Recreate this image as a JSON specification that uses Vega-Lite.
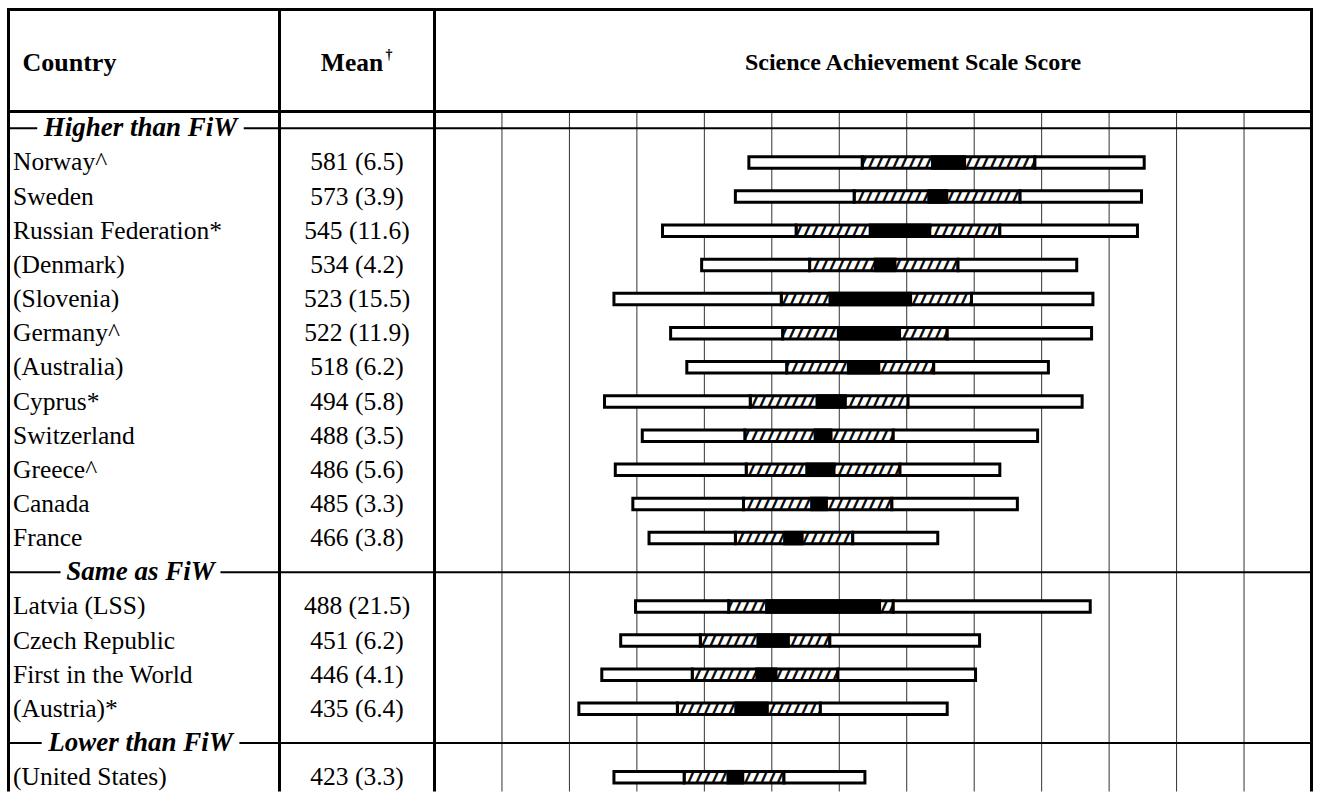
{
  "$schema": "https://vega.github.io/schema/vega-lite/v6.json",
  "padding": {"left": 5.5, "top": 6.5, "right": 0, "bottom": 0},
  "bounds": "flush",
  "spacing": 0,
  "config": {"view": {"stroke": null}, "font": "Liberation Serif"},
  "datasets": {
    "countries": [
      {"row": 1, "country": "Norway^", "meanLabel": "581 (6.5)", "mean": 581, "lo": 568.0, "hi": 594.0, "p5": 433, "p25": 517, "p75": 645, "p95": 726},
      {"row": 2, "country": "Sweden", "meanLabel": "573 (3.9)", "mean": 573, "lo": 565.2, "hi": 580.8, "p5": 423, "p25": 511, "p75": 634, "p95": 724},
      {"row": 3, "country": "Russian Federation*", "meanLabel": "545 (11.6)", "mean": 545, "lo": 521.8, "hi": 568.2, "p5": 369, "p25": 468, "p75": 619, "p95": 721},
      {"row": 4, "country": "(Denmark)", "meanLabel": "534 (4.2)", "mean": 534, "lo": 525.6, "hi": 542.4, "p5": 398, "p25": 478, "p75": 588, "p95": 676},
      {"row": 5, "country": "(Slovenia)", "meanLabel": "523 (15.5)", "mean": 523, "lo": 492.0, "hi": 554.0, "p5": 333, "p25": 457, "p75": 598, "p95": 688},
      {"row": 6, "country": "Germany^", "meanLabel": "522 (11.9)", "mean": 522, "lo": 498.2, "hi": 545.8, "p5": 375, "p25": 458, "p75": 580, "p95": 687},
      {"row": 7, "country": "(Australia)", "meanLabel": "518 (6.2)", "mean": 518, "lo": 505.6, "hi": 530.4, "p5": 387, "p25": 461, "p75": 570, "p95": 655},
      {"row": 8, "country": "Cyprus*", "meanLabel": "494 (5.8)", "mean": 494, "lo": 482.4, "hi": 505.6, "p5": 326, "p25": 434, "p75": 551, "p95": 680},
      {"row": 9, "country": "Switzerland", "meanLabel": "488 (3.5)", "mean": 488, "lo": 481.0, "hi": 495.0, "p5": 354, "p25": 430, "p75": 540, "p95": 647},
      {"row": 10, "country": "Greece^", "meanLabel": "486 (5.6)", "mean": 486, "lo": 474.8, "hi": 497.2, "p5": 334, "p25": 431, "p75": 545, "p95": 619},
      {"row": 11, "country": "Canada", "meanLabel": "485 (3.3)", "mean": 485, "lo": 478.4, "hi": 491.6, "p5": 347, "p25": 429, "p75": 539, "p95": 632},
      {"row": 12, "country": "France", "meanLabel": "466 (3.8)", "mean": 466, "lo": 458.4, "hi": 473.6, "p5": 359, "p25": 423, "p75": 510, "p95": 573},
      {"row": 14, "country": "Latvia (LSS)", "meanLabel": "488 (21.5)", "mean": 488, "lo": 445.0, "hi": 531.0, "p5": 349, "p25": 418, "p75": 540, "p95": 686},
      {"row": 15, "country": "Czech Republic", "meanLabel": "451 (6.2)", "mean": 451, "lo": 438.6, "hi": 463.4, "p5": 338, "p25": 397, "p75": 493, "p95": 604},
      {"row": 16, "country": "First in the World", "meanLabel": "446 (4.1)", "mean": 446, "lo": 437.8, "hi": 454.2, "p5": 324, "p25": 391, "p75": 499, "p95": 601},
      {"row": 17, "country": "(Austria)*", "meanLabel": "435 (6.4)", "mean": 435, "lo": 422.2, "hi": 447.8, "p5": 307, "p25": 380, "p75": 486, "p95": 580},
      {"row": 19, "country": "(United States)", "meanLabel": "423 (3.3)", "mean": 423, "lo": 416.4, "hi": 429.6, "p5": 333, "p25": 385, "p75": 459, "p95": 519}
    ],
    "groups": [
      {"row": 0, "label": "Higher than FiW"},
      {"row": 13, "label": "Same as FiW"},
      {"row": 18, "label": "Lower than FiW"}
    ],
    "ticks": [
      {"score": 250}, {"score": 300}, {"score": 350}, {"score": 400}, {"score": 450}, {"score": 500},
      {"score": 550}, {"score": 600}, {"score": 650}, {"score": 700}, {"score": 750}, {"score": 800}
    ]
  },
  "hconcat": [
    {
      "width": 271,
      "height": 782,
      "layer": [
        {"data": {"values": [{}]}, "mark": {"type": "rule", "color": "black", "strokeWidth": 3, "strokeCap": "square"},
         "encoding": {"y": {"datum": -3.479, "type": "quantitative", "scale": {"domain": [-3.479, 19.42], "reverse": true, "nice": false, "zero": false, "padding": 0}, "axis": null}}},
        {"data": {"values": [{}]}, "mark": {"type": "rule", "color": "black", "strokeWidth": 3},
         "encoding": {"y": {"datum": -0.492, "type": "quantitative", "scale": {"domain": [-3.479, 19.42], "reverse": true, "nice": false, "zero": false, "padding": 0}, "axis": null}}},
        {"data": {"values": [{}]}, "mark": {"type": "rule", "color": "black", "strokeWidth": 3},
         "encoding": {"x": {"datum": 0, "type": "quantitative", "scale": {"domain": [0, 1], "nice": false, "zero": false, "padding": 0}, "axis": null}}},
        {"data": {"name": "groups"}, "mark": {"type": "rule", "color": "black", "strokeWidth": 2},
         "encoding": {"y": {"field": "row", "type": "quantitative", "scale": {"domain": [-3.479, 19.42], "reverse": true, "nice": false, "zero": false, "padding": 0}, "axis": null}}},
        {"data": {"values": [{}]}, "mark": {"type": "bar", "orient": "horizontal", "size": 7, "fill": "white", "strokeWidth": 0},
         "encoding": {
           "x": {"datum": 0.106, "type": "quantitative", "scale": {"domain": [0, 1], "nice": false, "zero": false, "padding": 0}, "axis": null},
           "x2": {"datum": 0.868},
           "y": {"datum": 0, "type": "quantitative", "scale": {"domain": [-3.479, 19.42], "reverse": true, "nice": false, "zero": false, "padding": 0}, "axis": null}}},
        {"data": {"values": [{}]}, "mark": {"type": "bar", "orient": "horizontal", "size": 7, "fill": "white", "strokeWidth": 0},
         "encoding": {
           "x": {"datum": 0.192, "type": "quantitative", "scale": {"domain": [0, 1], "nice": false, "zero": false, "padding": 0}, "axis": null},
           "x2": {"datum": 0.782},
           "y": {"datum": 13, "type": "quantitative", "scale": {"domain": [-3.479, 19.42], "reverse": true, "nice": false, "zero": false, "padding": 0}, "axis": null}}},
        {"data": {"values": [{}]}, "mark": {"type": "bar", "orient": "horizontal", "size": 7, "fill": "white", "strokeWidth": 0},
         "encoding": {
           "x": {"datum": 0.1225, "type": "quantitative", "scale": {"domain": [0, 1], "nice": false, "zero": false, "padding": 0}, "axis": null},
           "x2": {"datum": 0.852},
           "y": {"datum": 18, "type": "quantitative", "scale": {"domain": [-3.479, 19.42], "reverse": true, "nice": false, "zero": false, "padding": 0}, "axis": null}}},
        {"data": {"values": [{}]}, "mark": {"type": "text", "text": "Country", "align": "left", "baseline": "middle", "dx": 14, "fontSize": 26, "fontWeight": "bold", "fill": "black"},
         "encoding": {
           "x": {"datum": 0, "type": "quantitative", "scale": {"domain": [0, 1], "nice": false, "zero": false, "padding": 0}, "axis": null},
           "y": {"datum": -1.921, "type": "quantitative", "scale": {"domain": [-3.479, 19.42], "reverse": true, "nice": false, "zero": false, "padding": 0}, "axis": null}}},
        {"data": {"name": "countries"}, "mark": {"type": "text", "align": "left", "baseline": "middle", "dx": 4.5, "fontSize": 25.5, "fill": "black"},
         "encoding": {
           "x": {"datum": 0, "type": "quantitative", "scale": {"domain": [0, 1], "nice": false, "zero": false, "padding": 0}, "axis": null},
           "y": {"field": "row", "type": "quantitative", "scale": {"domain": [-3.479, 19.42], "reverse": true, "nice": false, "zero": false, "padding": 0}, "axis": null},
           "text": {"field": "country"}}},
        {"data": {"name": "groups"}, "mark": {"type": "text", "align": "center", "baseline": "middle", "dx": -3.5, "fontSize": 27, "fontWeight": "bold", "fontStyle": "italic", "fill": "black"},
         "encoding": {
           "x": {"datum": 0.5, "type": "quantitative", "scale": {"domain": [0, 1], "nice": false, "zero": false, "padding": 0}, "axis": null},
           "y": {"field": "row", "type": "quantitative", "scale": {"domain": [-3.479, 19.42], "reverse": true, "nice": false, "zero": false, "padding": 0}, "axis": null},
           "text": {"field": "label"}}}
      ]
    },
    {
      "width": 155,
      "height": 782,
      "layer": [
        {"data": {"values": [{}]}, "mark": {"type": "rule", "color": "black", "strokeWidth": 3, "strokeCap": "square"},
         "encoding": {"y": {"datum": -3.479, "type": "quantitative", "scale": {"domain": [-3.479, 19.42], "reverse": true, "nice": false, "zero": false, "padding": 0}, "axis": null}}},
        {"data": {"values": [{}]}, "mark": {"type": "rule", "color": "black", "strokeWidth": 3},
         "encoding": {"y": {"datum": -0.492, "type": "quantitative", "scale": {"domain": [-3.479, 19.42], "reverse": true, "nice": false, "zero": false, "padding": 0}, "axis": null}}},
        {"data": {"values": [{}]}, "mark": {"type": "rule", "color": "black", "strokeWidth": 3},
         "encoding": {"x": {"datum": 0, "type": "quantitative", "scale": {"domain": [0, 1], "nice": false, "zero": false, "padding": 0}, "axis": null}}},
        {"data": {"name": "groups"}, "mark": {"type": "rule", "color": "black", "strokeWidth": 2},
         "encoding": {"y": {"field": "row", "type": "quantitative", "scale": {"domain": [-3.479, 19.42], "reverse": true, "nice": false, "zero": false, "padding": 0}, "axis": null}}},
        {"data": {"values": [{}]}, "mark": {"type": "text", "text": "Mean", "align": "center", "baseline": "middle", "dx": -5, "fontSize": 25.5, "fontWeight": "bold", "fill": "black"},
         "encoding": {
           "x": {"datum": 0.5, "type": "quantitative", "scale": {"domain": [0, 1], "nice": false, "zero": false, "padding": 0}, "axis": null},
           "y": {"datum": -1.921, "type": "quantitative", "scale": {"domain": [-3.479, 19.42], "reverse": true, "nice": false, "zero": false, "padding": 0}, "axis": null}}},
        {"data": {"values": [{}]}, "mark": {"type": "text", "text": "†", "align": "center", "baseline": "alphabetic", "dx": 32, "dy": -4, "fontSize": 14, "fontWeight": "bold", "fill": "black"},
         "encoding": {
           "x": {"datum": 0.5, "type": "quantitative", "scale": {"domain": [0, 1], "nice": false, "zero": false, "padding": 0}, "axis": null},
           "y": {"datum": -1.921, "type": "quantitative", "scale": {"domain": [-3.479, 19.42], "reverse": true, "nice": false, "zero": false, "padding": 0}, "axis": null}}},
        {"data": {"name": "countries"}, "mark": {"type": "text", "align": "center", "baseline": "middle", "fontSize": 25.5, "fill": "black"},
         "encoding": {
           "x": {"datum": 0.5, "type": "quantitative", "scale": {"domain": [0, 1], "nice": false, "zero": false, "padding": 0}, "axis": null},
           "y": {"field": "row", "type": "quantitative", "scale": {"domain": [-3.479, 19.42], "reverse": true, "nice": false, "zero": false, "padding": 0}, "axis": null},
           "text": {"field": "meanLabel"}}}
      ]
    },
    {
      "width": 877,
      "height": 782,
      "layer": [
        {"data": {"name": "ticks"}, "mark": {"type": "rule", "color": "#333333", "strokeWidth": 1},
         "encoding": {
           "x": {"field": "score", "type": "quantitative", "scale": {"domain": [200, 850], "nice": false, "zero": false, "padding": 0}, "axis": null},
           "y": {"datum": -0.492, "type": "quantitative", "scale": {"domain": [-3.479, 19.42], "reverse": true, "nice": false, "zero": false, "padding": 0}, "axis": null},
           "y2": {"datum": 19.42}}},
        {"data": {"name": "countries"}, "mark": {"type": "bar", "orient": "horizontal", "size": 11.5, "fill": "white", "stroke": "black", "strokeWidth": 3},
         "encoding": {
           "x": {"field": "p25", "type": "quantitative", "scale": {"domain": [200, 850], "nice": false, "zero": false, "padding": 0}, "axis": null},
           "x2": {"field": "p75"},
           "y": {"field": "row", "type": "quantitative", "scale": {"domain": [-3.479, 19.42], "reverse": true, "nice": false, "zero": false, "padding": 0}, "axis": null}}},
        {"data": {"name": "countries"}, "mark": {"type": "text", "text": "////////////////////////////", "font": "DejaVu Sans Mono", "fontWeight": "bold", "fontSize": 13.5, "align": "center", "baseline": "middle", "fill": "black"},
         "encoding": {
           "x": {"field": "mean", "type": "quantitative", "scale": {"domain": [200, 850], "nice": false, "zero": false, "padding": 0}, "axis": null},
           "y": {"field": "row", "type": "quantitative", "scale": {"domain": [-3.479, 19.42], "reverse": true, "nice": false, "zero": false, "padding": 0}, "axis": null}}},
        {"data": {"name": "countries"}, "mark": {"type": "text", "text": "////////////////////////////", "font": "DejaVu Sans Mono", "fontWeight": "bold", "fontSize": 13.5, "align": "center", "baseline": "middle", "dx": 1, "fill": "black"},
         "encoding": {
           "x": {"field": "mean", "type": "quantitative", "scale": {"domain": [200, 850], "nice": false, "zero": false, "padding": 0}, "axis": null},
           "y": {"field": "row", "type": "quantitative", "scale": {"domain": [-3.479, 19.42], "reverse": true, "nice": false, "zero": false, "padding": 0}, "axis": null}}},
        {"data": {"name": "countries"}, "mark": {"type": "bar", "orient": "horizontal", "size": 11.5, "fill": "white", "stroke": "black", "strokeWidth": 3},
         "encoding": {
           "x": {"field": "p5", "type": "quantitative", "scale": {"domain": [200, 850], "nice": false, "zero": false, "padding": 0}, "axis": null},
           "x2": {"field": "p25"},
           "y": {"field": "row", "type": "quantitative", "scale": {"domain": [-3.479, 19.42], "reverse": true, "nice": false, "zero": false, "padding": 0}, "axis": null}}},
        {"data": {"name": "countries"}, "mark": {"type": "bar", "orient": "horizontal", "size": 11.5, "fill": "white", "stroke": "black", "strokeWidth": 3},
         "encoding": {
           "x": {"field": "p75", "type": "quantitative", "scale": {"domain": [200, 850], "nice": false, "zero": false, "padding": 0}, "axis": null},
           "x2": {"field": "p95"},
           "y": {"field": "row", "type": "quantitative", "scale": {"domain": [-3.479, 19.42], "reverse": true, "nice": false, "zero": false, "padding": 0}, "axis": null}}},
        {"data": {"name": "countries"}, "mark": {"type": "bar", "orient": "horizontal", "size": 14.5, "fill": "black", "strokeWidth": 0},
         "encoding": {
           "x": {"field": "lo", "type": "quantitative", "scale": {"domain": [200, 850], "nice": false, "zero": false, "padding": 0}, "axis": null},
           "x2": {"field": "hi"},
           "y": {"field": "row", "type": "quantitative", "scale": {"domain": [-3.479, 19.42], "reverse": true, "nice": false, "zero": false, "padding": 0}, "axis": null}}},
        {"data": {"values": [{}]}, "mark": {"type": "rule", "color": "black", "strokeWidth": 3, "strokeCap": "square"},
         "encoding": {"y": {"datum": -3.479, "type": "quantitative", "scale": {"domain": [-3.479, 19.42], "reverse": true, "nice": false, "zero": false, "padding": 0}, "axis": null}}},
        {"data": {"values": [{}]}, "mark": {"type": "rule", "color": "black", "strokeWidth": 3},
         "encoding": {"y": {"datum": -0.492, "type": "quantitative", "scale": {"domain": [-3.479, 19.42], "reverse": true, "nice": false, "zero": false, "padding": 0}, "axis": null}}},
        {"data": {"values": [{}]}, "mark": {"type": "rule", "color": "black", "strokeWidth": 3},
         "encoding": {"x": {"datum": 200, "type": "quantitative", "scale": {"domain": [200, 850], "nice": false, "zero": false, "padding": 0}, "axis": null}}},
        {"data": {"values": [{}]}, "mark": {"type": "rule", "color": "black", "strokeWidth": 3},
         "encoding": {"x": {"datum": 850, "type": "quantitative", "scale": {"domain": [200, 850], "nice": false, "zero": false, "padding": 0}, "axis": null}}},
        {"data": {"name": "groups"}, "mark": {"type": "rule", "color": "black", "strokeWidth": 2},
         "encoding": {"y": {"field": "row", "type": "quantitative", "scale": {"domain": [-3.479, 19.42], "reverse": true, "nice": false, "zero": false, "padding": 0}, "axis": null}}},
        {"data": {"values": [{}]}, "mark": {"type": "text", "text": "Science Achievement Scale Score", "align": "center", "baseline": "middle", "dx": 40, "fontSize": 24, "fontWeight": "bold", "fill": "black"},
         "encoding": {
           "x": {"datum": 525, "type": "quantitative", "scale": {"domain": [200, 850], "nice": false, "zero": false, "padding": 0}, "axis": null},
           "y": {"datum": -1.921, "type": "quantitative", "scale": {"domain": [-3.479, 19.42], "reverse": true, "nice": false, "zero": false, "padding": 0}, "axis": null}}}
      ]
    }
  ]
}
